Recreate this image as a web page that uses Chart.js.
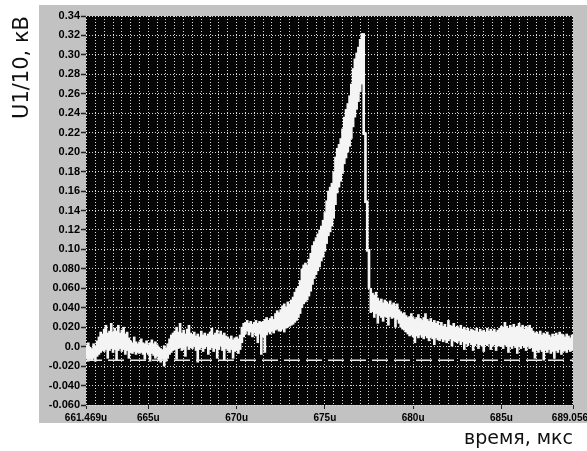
<!DOCTYPE html>
<html><head><meta charset="utf-8">
<script src="https://cdn.jsdelivr.net/npm/chart.js@4.4.1/dist/chart.umd.min.js"></script>
<style>html,body{margin:0;padding:0;background:#fff;overflow:hidden}canvas{display:block}</style>
</head><body>
<canvas id="c" width="587" height="451"></canvas>
<script>
// sampling clock of the trace (µs)
const sampleStart = 661.5;
const sampleStep = 0.1;

// lower edge of the noisy trace band, one value per sample
const bandLow = [
  -0.012,-0.015,-0.013,-0.014,-0.012,-0.015,-0.010,-0.008,-0.006,-0.004,
  -0.005,-0.003,-0.012,-0.004,-0.002,-0.006,-0.003,-0.014,-0.004,-0.002,
  -0.005,-0.003,-0.008,-0.004,-0.012,-0.006,-0.007,-0.005,-0.008,-0.006,
  -0.007,-0.006,-0.008,-0.013,-0.006,-0.008,-0.015,-0.007,-0.009,-0.012,
  -0.010,-0.014,-0.016,-0.013,-0.020,-0.015,-0.012,-0.008,-0.006,-0.004,
  -0.003,-0.013,-0.002,-0.001,-0.004,-0.002,-0.010,0.000,-0.003,-0.001,
  -0.002,0.000,-0.004,-0.016,-0.003,-0.001,-0.005,-0.002,0.000,-0.008,
  -0.003,-0.001,-0.005,-0.002,-0.012,-0.003,0.000,-0.004,-0.014,-0.002,
  -0.004,-0.006,-0.003,-0.012,-0.005,-0.004,-0.007,-0.003,0.004,0.010,
  0.013,0.016,0.012,0.015,0.010,0.014,0.011,0.004,0.013,-0.008,
  0.010,-0.006,0.012,0.015,0.013,0.016,0.014,0.017,0.018,0.016,
  0.016,0.018,0.015,0.019,0.020,0.021,0.022,0.023,0.025,0.027,
  0.030,0.034,0.040,0.044,0.046,0.048,0.052,0.057,0.064,0.070,
  0.074,0.078,0.082,0.088,0.092,0.098,0.106,0.114,0.118,0.124,
  0.132,0.146,0.158,0.164,0.170,0.178,0.188,0.194,0.200,0.206,
  0.214,0.226,0.236,0.244,0.252,0.262,0.270,0.218,0.148,0.098,
  0.060,0.035,0.036,0.030,0.034,0.024,0.032,0.030,0.026,0.031,
  0.030,0.022,0.031,0.029,0.030,0.020,0.028,0.024,0.020,0.018,
  0.017,0.015,0.013,0.011,0.012,0.010,0.004,0.011,0.009,0.012,
  0.010,0.008,0.011,0.009,0.006,0.010,0.008,0.002,0.009,0.007,
  0.006,0.008,0.005,0.007,0.004,0.006,0.008,0.000,0.006,0.005,
  0.004,0.006,0.002,0.005,-0.003,0.003,0.001,0.004,0.002,-0.004,
  0.001,0.003,-0.002,0.002,0.000,-0.005,0.002,0.001,0.003,-0.003,
  0.000,0.002,-0.004,0.001,0.000,0.001,-0.002,0.002,0.000,-0.006,
  0.000,-0.002,0.001,-0.001,-0.007,0.000,-0.002,0.001,-0.001,-0.004,
  0.000,-0.002,-0.001,-0.005,-0.012,-0.004,-0.006,-0.003,-0.005,-0.014,
  -0.004,-0.006,-0.003,-0.007,-0.005,-0.012,-0.004,-0.006,-0.003,-0.008,
  -0.005,-0.004,-0.006,-0.003,-0.005,-0.004
];

// upper edge of the noisy trace band, one value per sample
const bandHigh = [
  0.002,0.004,0.000,-0.002,0.003,0.001,0.006,0.010,0.015,0.013,
  0.018,0.022,0.014,0.016,0.024,0.015,0.019,0.016,0.022,0.014,
  0.017,0.020,0.013,0.015,0.009,0.006,0.004,0.010,0.005,0.003,
  0.005,0.008,0.004,0.003,0.006,0.002,0.004,0.007,0.003,0.005,
  0.002,0.000,-0.002,-0.003,0.001,-0.001,0.003,0.008,0.012,0.014,
  0.016,0.020,0.015,0.024,0.014,0.017,0.013,0.018,0.022,0.014,
  0.012,0.015,0.011,0.013,0.010,0.016,0.012,0.014,0.011,0.013,
  0.015,0.019,0.012,0.014,0.017,0.013,0.016,0.012,0.014,0.011,
  0.010,0.008,0.011,0.007,0.009,0.010,0.008,0.012,0.020,0.024,
  0.025,0.027,0.024,0.026,0.023,0.025,0.027,0.024,0.026,0.025,
  0.026,0.028,0.030,0.027,0.029,0.031,0.028,0.034,0.037,0.035,
  0.038,0.042,0.044,0.041,0.046,0.044,0.048,0.051,0.056,0.060,
  0.062,0.068,0.080,0.084,0.086,0.084,0.090,0.096,0.104,0.108,
  0.112,0.116,0.120,0.124,0.130,0.138,0.150,0.160,0.164,0.168,
  0.180,0.195,0.204,0.208,0.214,0.224,0.236,0.244,0.250,0.258,
  0.270,0.286,0.296,0.302,0.308,0.316,0.322,0.322,0.220,0.150,
  0.100,0.060,0.055,0.053,0.056,0.050,0.047,0.049,0.045,0.048,
  0.046,0.044,0.047,0.043,0.045,0.042,0.044,0.038,0.036,0.034,
  0.035,0.032,0.030,0.031,0.034,0.030,0.028,0.030,0.033,0.029,
  0.027,0.030,0.034,0.028,0.026,0.029,0.025,0.027,0.024,0.026,
  0.022,0.025,0.021,0.023,0.020,0.027,0.022,0.021,0.024,0.020,
  0.021,0.019,0.022,0.018,0.020,0.017,0.019,0.016,0.018,0.017,
  0.016,0.019,0.015,0.018,0.016,0.017,0.015,0.019,0.016,0.018,
  0.016,0.018,0.015,0.017,0.019,0.021,0.020,0.025,0.021,0.019,
  0.022,0.020,0.023,0.019,0.021,0.024,0.020,0.022,0.018,0.021,
  0.020,0.022,0.019,0.016,0.014,0.015,0.013,0.016,0.012,0.014,
  0.013,0.015,0.012,0.010,0.013,0.011,0.014,0.012,0.015,0.013,
  0.012,0.010,0.013,0.011,0.009,0.012
];

// dashed reference level
const refLineTimes = [661.469, 689.056];
const refLineLevels = [-0.014, -0.014];

// axis ticks
const xTickValues = [661.469, 665, 670, 675, 680, 685, 689.056];
const xTickLabels = ['661.469u', '665u', '670u', '675u', '680u', '685u', '689.056u'];
const yTickValues = [-0.06, -0.04, -0.02, 0, 0.02, 0.04, 0.06, 0.08, 0.10, 0.12, 0.14,
  0.16, 0.18, 0.20, 0.22, 0.24, 0.26, 0.28, 0.30, 0.32, 0.34];
const yTickLabels = ['-0.060', '-0.040', '-0.020', '0.0', '0.020', '0.040', '0.060', '0.080',
  '0.10', '0.12', '0.14', '0.16', '0.18', '0.20', '0.22', '0.24', '0.26', '0.28', '0.30', '0.32', '0.34'];

const xMin = xTickValues[0], xMax = xTickValues[xTickValues.length - 1];
const yMin = yTickValues[0], yMax = yTickValues[yTickValues.length - 1];

const sampleTimes = bandLow.map((_, i) => +(sampleStart + i * sampleStep).toFixed(2));

const backdrop = {
  id: 'backdrop',
  beforeDraw(chart) {
    const {ctx, chartArea: a} = chart;
    ctx.save();
    ctx.fillStyle = '#ffffff';
    ctx.fillRect(0, 0, chart.width, chart.height);
    ctx.fillStyle = '#c2c2c2';
    ctx.fillRect(39, 5, chart.width - 39, 418);
    ctx.fillStyle = '#050505';
    ctx.fillRect(a.left, a.top, a.right - a.left, a.bottom - a.top);
    ctx.restore();
  }
};

const tickFamily = '"Liberation Sans", Arial, sans-serif';
const gridColor = 'rgba(232,232,232,0.95)';

new Chart(document.getElementById('c'), {
  type: 'bar',
  data: {
    datasets: [
      {
        type: 'bar',
        label: 'U1/10',
        data: sampleTimes.map((t, i) => ({x: t, y: [bandLow[i], bandHigh[i]]})),
        backgroundColor: '#f4f4f4',
        borderWidth: 0,
        barThickness: 2,
        xAxisID: 'x', yAxisID: 'y',
        order: 2
      },
      {
        type: 'line',
        label: 'level',
        data: refLineTimes.map((t, i) => ({x: t, y: refLineLevels[i]})),
        borderColor: '#e8e8e8',
        borderWidth: 1.5,
        borderDash: [16, 6],
        pointRadius: 0,
        xAxisID: 'x', yAxisID: 'y',
        order: 1
      }
    ]
  },
  options: {
    responsive: false,
    animation: false,
    devicePixelRatio: 1,
    layout: {padding: {top: 16, right: 14, bottom: 0, left: 0}, autoPadding: false},
    plugins: {legend: {display: false}, tooltip: {enabled: false}},
    scales: {
      x: {
        type: 'linear', position: 'bottom', min: xMin, max: xMax, offset: false,
        afterBuildTicks: s => { s.ticks = xTickValues.map(v => ({value: v})); },
        afterFit: s => { s.height = 46; s.paddingLeft = 0; s.paddingRight = 0; },
        ticks: {
          autoSkip: false, maxRotation: 0, padding: 3, color: '#000',
          font: {family: tickFamily, size: 10, weight: 'bold'},
          callback: (v, i) => xTickLabels[i]
        },
        grid: {offset: false, drawOnChartArea: false, drawTicks: true, tickLength: 4,
               tickColor: '#222', tickWidth: 1, color: '#222'},
        border: {display: false},
        title: {display: true, text: 'время, мкс', align: 'end', color: '#111',
                font: {family: '"DejaVu Sans", sans-serif', size: 19}, padding: {top: 0, bottom: 1}}
      },
      xg: {
        type: 'linear', position: 'bottom', min: xMin, max: xMax, offset: false,
        afterFit: s => { s.height = 0; s.paddingLeft = 0; s.paddingRight = 0; },
        ticks: {display: false, stepSize: 0.5, includeBounds: false},
        grid: {offset: false, drawTicks: false, tickLength: 0, color: gridColor, lineWidth: 1},
        border: {display: false, dash: [1, 2]}
      },
      y: {
        type: 'linear', position: 'left', min: yMin, max: yMax,
        afterBuildTicks: s => { s.ticks = yTickValues.map(v => ({value: v})); },
        afterFit: s => { s.width = 86; s.paddingTop = 0; s.paddingBottom = 0; },
        ticks: {
          autoSkip: false, padding: 1, color: '#000',
          font: {family: tickFamily, size: 11, weight: 'bold'},
          callback: (v, i) => yTickLabels[i]
        },
        grid: {drawOnChartArea: true, drawTicks: true, tickLength: 5, tickColor: '#222',
               tickWidth: 1.5, color: gridColor, lineWidth: 1, tickBorderDash: []},
        border: {display: false, dash: [1, 2]},
        title: {display: true, text: 'U1/10, кВ', align: 'end', color: '#111',
                font: {family: '"DejaVu Sans", sans-serif', size: 21}, padding: {top: 10, bottom: 0}}
      }
    }
  },
  plugins: [backdrop]
});
</script>
</body></html>
